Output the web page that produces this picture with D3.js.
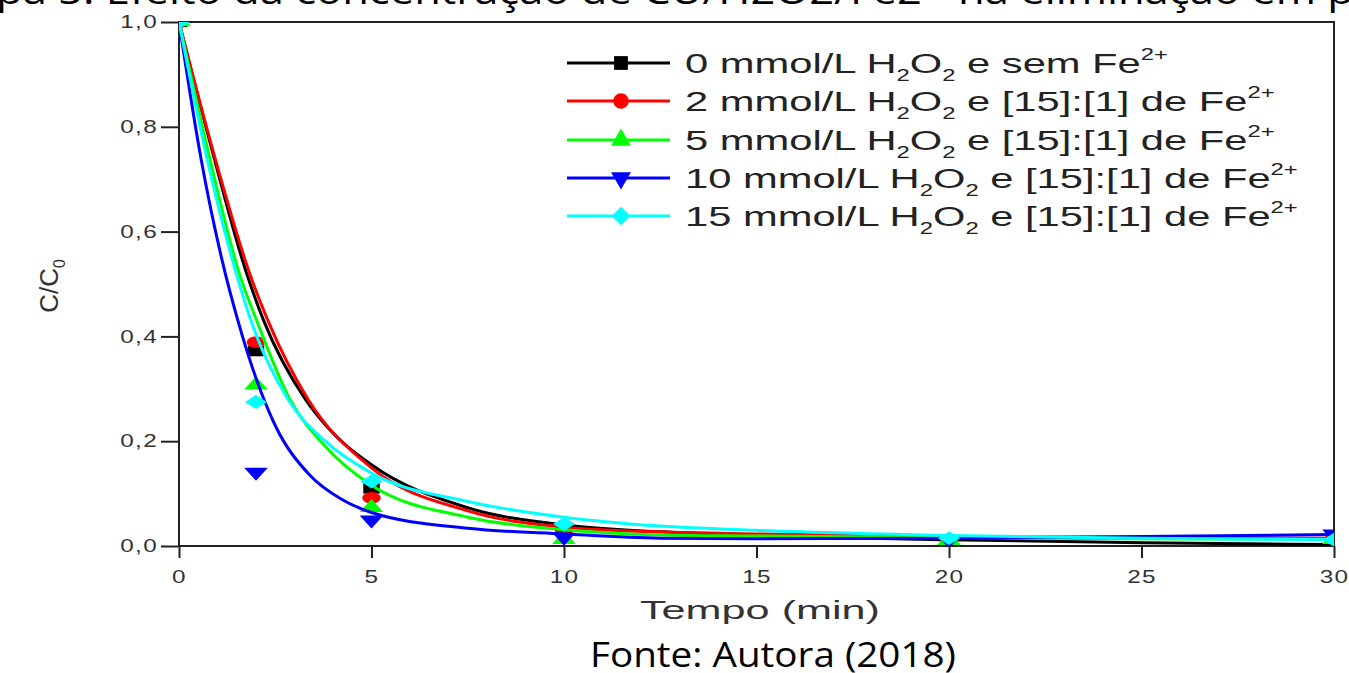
<!DOCTYPE html>
<html>
<head>
<meta charset="utf-8">
<script src="https://cdn.jsdelivr.net/npm/d3@7"></script>
<style>
  body { margin: 0; background: #fff; }
  svg { display: block; }
</style>
</head>
<body>
<div id="chart"></div>
<script>
// measured points (min, C/C0)
let times = [0, 2, 5, 10, 20, 30]

let seriesKeys = ["0", "2", "5", "10", "15"]
let seriesColors = ["#000000", "#ff0000", "#00ff00", "#0000ff", "#00ffff"]
let seriesSymbols = ["square", "circle", "triangle", "triangleDown", "diamond"]
let seriesLabels = [
    ["0 mmol/L H", "2", "O", "2", " e sem Fe", "2+"],
    ["2 mmol/L H", "2", "O", "2", " e [15]:[1] de Fe", "2+"],
    ["5 mmol/L H", "2", "O", "2", " e [15]:[1] de Fe", "2+"],
    ["10 mmol/L H", "2", "O", "2", " e [15]:[1] de Fe", "2+"],
    ["15 mmol/L H", "2", "O", "2", " e [15]:[1] de Fe", "2+"]
]

let pointsBlack = [1.0, 0.372, 0.11, 0.035, 0.008, 0.003]
let pointsRed = [1.0, 0.389, 0.092, 0.03, 0.012, 0.014]
let pointsGreen = [1.0, 0.307, 0.073, 0.012, 0.01, 0.012]
let pointsBlue = [1.0, 0.141, 0.05, 0.017, 0.012, 0.023]
let pointsCyan = [1.0, 0.275, 0.123, 0.042, 0.015, 0.012]

// fitted curves as [t, C/C0]
let fitBlack = [[0, 1], [0.86, 0.755], [1.77, 0.517], [2.2, 0.43], [3.28, 0.28], [3.85, 0.227], [5, 0.155], [7.5, 0.073], [10, 0.04], [12.5, 0.027], [15, 0.02], [20, 0.012], [25, 0.006], [30, 0.003]]
let fitRed = [[0, 1], [0.88, 0.755], [1.85, 0.517], [2.31, 0.43], [3.35, 0.28], [5, 0.149], [7.5, 0.067], [10, 0.036], [12.5, 0.027], [15, 0.023], [20, 0.018], [25, 0.016], [30, 0.015]]
let fitGreen = [[0, 1], [0.75, 0.755], [1.58, 0.517], [2.02, 0.43], [2.88, 0.28], [3.8, 0.19], [5, 0.116], [7.5, 0.055], [10, 0.031], [12.5, 0.021], [15, 0.019], [20, 0.016], [25, 0.014], [30, 0.013]]
let fitBlue = [[0, 1], [0.57, 0.74], [1.12, 0.545], [1.53, 0.43], [2.1, 0.3], [2.5, 0.23], [3.4, 0.135], [4.2, 0.09], [5, 0.064], [7.5, 0.034], [10, 0.023], [12.5, 0.015], [15, 0.014], [20, 0.015], [25, 0.018], [30, 0.022]]
let fitCyan = [[0, 1], [0.68, 0.755], [1.5, 0.517], [1.87, 0.43], [2.83, 0.28], [3.8, 0.2], [5, 0.139], [7.5, 0.085], [10, 0.055], [12.5, 0.038], [15, 0.03], [20, 0.02], [25, 0.015], [30, 0.012]]

let allPoints = [pointsBlack, pointsRed, pointsGreen, pointsBlue, pointsCyan]
let allFits = [fitBlack, fitRed, fitGreen, fitBlue, fitCyan]

let xTicks = [0, 5, 10, 15, 20, 25, 30]
let yTicks = [0, 0.2, 0.4, 0.6, 0.8, 1.0]

let W = 1349, H = 673

let svg = d3.select("#chart")
    .append("svg")
    .attr("width", W)
    .attr("height", H)

// caption cut at the top of the picture
svg.append("text")
    .attr("x", -4)
    .attr("y", 4)
    .attr("textLength", 1358)
    .attr("lengthAdjust", "spacingAndGlyphs")
    .style("font-family", "'Open Sans', 'Noto Sans', sans-serif")
    .style("font-size", "36px")
    .style("fill", "#000")
    .text("pa 5: Efeito da concentração de CU/H2O2/Fe2+ na eliminação em p")

let xScale = d3.scaleLinear().domain([0, 30]).range([179, 1334])
let yScale = d3.scaleLinear().domain([0, 1]).range([546, 22])

svg.append("defs").append("clipPath")
    .attr("id", "plotClip")
    .append("rect")
    .attr("x", xScale(0))
    .attr("y", yScale(1))
    .attr("width", xScale(30) - xScale(0))
    .attr("height", yScale(0) - yScale(1))

let tickFont = "'Liberation Sans', Arial, sans-serif"
let sideStretch = 1.35

// x axis: minor ticks then major ticks with labels
let xAxisG = svg.append("g")
    .attr("transform", "translate(0," + yScale(0) + ")")
xAxisG.call(d3.axisBottom(xScale).tickValues(d3.range(2.5, 30, 5)).tickSize(7).tickFormat(""))
xAxisG.call(d3.axisBottom(xScale).tickValues(xTicks).tickSize(12).tickPadding(12).tickFormat(d3.format("d")))
xAxisG.selectAll("path").remove()
xAxisG.selectAll("line").attr("stroke", "#222").attr("stroke-width", 2)
xAxisG.selectAll("text")
    .attr("transform", "scale(" + sideStretch + ",1)")
    .style("font-family", tickFont)
    .style("font-size", "18px")
    .style("letter-spacing", "1px")
    .style("fill", "#333")

let yAxisG = svg.append("g")
    .attr("transform", "translate(" + xScale(0) + ",0)")
yAxisG.call(d3.axisLeft(yScale).tickValues(d3.range(0.1, 1, 0.2)).tickSize(9).tickFormat(""))
yAxisG.call(d3.axisLeft(yScale).tickValues(yTicks).tickSize(18).tickPadding(0)
    .tickFormat(d => d3.format(".1f")(d).replace(".", ",")))
yAxisG.selectAll("path").remove()
yAxisG.selectAll("line").attr("stroke", "#222").attr("stroke-width", 2)
yAxisG.selectAll("text")
    .attr("x", -21 / sideStretch)
    .attr("transform", "scale(" + sideStretch + ",1)")
    .style("font-family", tickFont)
    .style("font-size", "18px")
    .style("letter-spacing", "1px")
    .style("fill", "#333")

// frame
svg.append("rect")
    .attr("x", xScale(0))
    .attr("y", yScale(1))
    .attr("width", xScale(30) - xScale(0))
    .attr("height", yScale(0) - yScale(1))
    .attr("fill", "none")
    .attr("stroke", "#222")
    .attr("stroke-width", 2)

// axis titles
svg.append("text")
    .attr("x", 760)
    .attr("y", 619)
    .attr("text-anchor", "middle")
    .attr("textLength", 240)
    .attr("lengthAdjust", "spacingAndGlyphs")
    .style("font-family", tickFont)
    .style("font-size", "26px")
    .style("fill", "#333")
    .text("Tempo (min)")

let yTitle = svg.append("text")
    .attr("transform", "translate(58,286) rotate(-90)")
    .attr("text-anchor", "middle")
    .style("font-family", tickFont)
    .style("font-size", "26px")
    .style("fill", "#333")
yTitle.append("tspan").text("C/C")
yTitle.append("tspan").attr("dy", 7).style("font-size", "16px").text("0")

svg.append("text")
    .attr("x", 773)
    .attr("y", 667)
    .attr("text-anchor", "middle")
    .attr("textLength", 366)
    .attr("lengthAdjust", "spacingAndGlyphs")
    .style("font-family", "'Open Sans', 'Noto Sans', sans-serif")
    .style("font-size", "34px")
    .style("fill", "#000")
    .text("Fonte: Autora (2018)")

function symbolPath(kind, size) {
    if (kind == "square") return d3.symbol().type(d3.symbolSquare).size(size)()
    if (kind == "circle") return d3.symbol().type(d3.symbolCircle).size(size)()
    if (kind == "diamond") return d3.symbol().type(d3.symbolSquare).size(size * 0.9)()
    return d3.symbol().type(d3.symbolTriangle).size(size * 0.9)()
}

function symbolRotate(kind) {
    if (kind == "triangleDown") return 180
    if (kind == "diamond") return 45
    return 0
}

let line = d3.line()
    .x(d => xScale(d[0]))
    .y(d => yScale(d[1]))
    .curve(d3.curveMonotoneX)

let plot = svg.append("g").attr("clip-path", "url(#plotClip)")

for (let i = 0; i < seriesKeys.length; i++) {
    let color = seriesColors[i]
    let kind = seriesSymbols[i]

    plot.append("g")
        .selectAll("path")
        .data(times.map((t, j) => [t, allPoints[i][j]]))
        .enter()
        .append("path")
        .attr("d", symbolPath(kind, 120))
        .attr("transform", d => "translate(" + xScale(d[0]) + "," + yScale(d[1]) + ") scale(1.5,0.95) rotate(" + symbolRotate(kind) + ")")
        .attr("fill", color)

    plot.append("path")
        .datum(allFits[i])
        .attr("d", line)
        .attr("fill", "none")
        .attr("stroke", color)
        .attr("stroke-width", 3)
}

// legend
let legend = svg.append("g")
let rowY = [63, 101, 140, 178, 216]
let legendTexts = []

for (let i = 0; i < seriesKeys.length; i++) {
    let row = legend.append("g").attr("transform", "translate(0," + rowY[i] + ")")
    row.append("line")
        .attr("x1", 567).attr("x2", 670)
        .attr("y1", 0).attr("y2", 0)
        .attr("stroke", seriesColors[i])
        .attr("stroke-width", 3)
    row.append("path")
        .attr("d", symbolPath(seriesSymbols[i], 190))
        .attr("transform", "translate(621,0) rotate(" + symbolRotate(seriesSymbols[i]) + ")")
        .attr("fill", seriesColors[i])

    let parts = seriesLabels[i]
    let txt = row.append("text")
        .attr("x", 0)
        .attr("y", 10)
        .style("font-family", tickFont)
        .style("font-size", "28px")
        .style("fill", "#222")
    txt.append("tspan").text(parts[0])
    txt.append("tspan").attr("dy", 8).style("font-size", "16px").text(parts[1])
    txt.append("tspan").attr("dy", -8).text(parts[2])
    txt.append("tspan").attr("dy", 8).style("font-size", "16px").text(parts[3])
    txt.append("tspan").attr("dy", -8).text(parts[4])
    txt.append("tspan").attr("dy", -13).style("font-size", "16px").text(parts[5])
    legendTexts.push(txt)
}

// the legend text in the picture is stretched sideways; fit the longest row
let longest = d3.max(legendTexts, t => t.node().getComputedTextLength())
let stretch = (1298 - 685) / longest
legendTexts.forEach(t => t.attr("transform", "translate(685,0) scale(" + stretch + ",1)"))
</script>
</body>
</html>
